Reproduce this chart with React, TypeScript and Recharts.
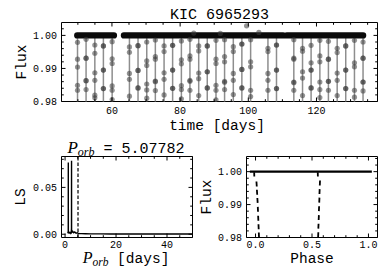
import React from 'react';
import { ComposedChart, Line, Scatter, XAxis, YAxis, ReferenceLine, ReferenceArea } from 'recharts';

const W = 390;
const H = 279;
const MONO = '"Liberation Mono", "Courier New", monospace';
const SERIF = '"Liberation Serif", "Times New Roman", serif';

// ---------------- light curve (top panel) ----------------
const lcXDomain = [45.2, 137.9];
const lcYDomain = [0.98, 1.0039];
const lcXMajor = [60, 80, 100, 120];
const lcXMinor = [50, 55, 65, 70, 75, 85, 90, 95, 105, 110, 115, 125, 130, 135];
const fluxMajor = [0.98, 0.99, 1.0];
const fluxMinor = [0.982, 0.984, 0.986, 0.988, 0.992, 0.994, 0.996, 0.998, 1.002];
const segStart = [49.8, 63.5, 111.3];
const segEnd = [60.6, 110.2, 133.7];
const eclipseTimes = [
  49.9, 52.41, 54.98, 57.49, 60.06, 65.13, 67.65, 70.21, 72.73, 75.29, 77.8, 80.37, 82.88, 85.45, 87.96, 90.52,
  93.04, 95.6, 98.11, 100.68, 105.76, 108.27, 113.35, 115.91, 118.42, 120.99, 123.5, 126.07, 128.58, 131.14, 133.66,
];
const eclipseFlux = [
  [0.9979, 0.9928, 0.9904, 0.9849, 0.9834],
  [0.9988, 0.9931, 0.9931, 0.9863, 0.9863, 0.9836],
  [0.9971, 0.9946, 0.9887, 0.9864, 0.9819, 0.9811],
  [0.9968, 0.9968, 0.9895, 0.9895, 0.9839, 0.9839],
  [0.9981, 0.9929, 0.9915, 0.9847, 0.9834, 0.9806],
  [0.9965, 0.9949, 0.9885, 0.9867, 0.9816],
  [0.9969, 0.9969, 0.9894, 0.9894, 0.9841, 0.9841],
  [0.998, 0.9923, 0.9909, 0.9853, 0.9835, 0.981],
  [0.9986, 0.9936, 0.9928, 0.9862, 0.986, 0.9833],
  [0.9968, 0.9951, 0.9887, 0.9867, 0.982],
  [0.997, 0.997, 0.9895, 0.9895, 0.984, 0.984],
  [0.9983, 0.9926, 0.9914, 0.9848, 0.9836, 0.9808],
  [0.9988, 0.9938, 0.9928, 0.9864, 0.9861, 0.9834],
  [0.9968, 0.9953, 0.9886, 0.9869, 0.9818],
  [0.9968, 0.9968, 0.989, 0.989, 0.9841, 0.9841],
  [0.9985, 0.9928, 0.9915, 0.9849, 0.9834, 0.9805],
  [0.9987, 0.9936, 0.992, 0.9861, 0.9858, 0.9836],
  [0.9966, 0.9951, 0.9885, 0.9864, 0.9821],
  [0.9974, 0.9974, 0.9897, 0.9897, 0.9841, 0.9841],
  [0.9987, 0.992, 0.9905, 0.9834, 0.9815],
  [0.9961, 0.9951, 0.9885, 0.9864, 0.9834],
  [0.9971, 0.9971, 0.9895, 0.9895, 0.9839, 0.9839],
  [0.9987, 0.9931, 0.9928, 0.9859, 0.9857, 0.9834],
  [0.9961, 0.9952, 0.989, 0.9871, 0.9818],
  [0.997, 0.9917, 0.9895, 0.9895, 0.9841, 0.9841],
  [0.9985, 0.9938, 0.992, 0.9859, 0.9836, 0.9812],
  [0.9982, 0.9928, 0.9928, 0.9861, 0.9861, 0.9834],
  [0.9961, 0.9948, 0.9886, 0.9864, 0.9818],
  [0.9968, 0.9968, 0.9895, 0.9895, 0.9839, 0.9839],
  [0.9985, 0.9917, 0.9905, 0.9834, 0.9813],
  [0.998, 0.9931, 0.9931, 0.9859, 0.9859, 0.9832],
];
const eclipseMin = 0.975;
const strayTimes = [99.5, 84.0, 91.8, 103.1];
const strayFlux = [1.0029, 1.0007, 1.0006, 1.0009];

// ---------------- periodogram (bottom left) ----------------
const lsXDomain = [-1.4, 50];
const lsYDomain = [-0.0035, 0.083];
const lsXMajor = [0, 20, 40];
const lsXMinor = [5, 10, 15, 25, 30, 35, 45, 50];
const lsYMajor = [0, 0.05];
const lsYMinor = [0.01, 0.02, 0.03, 0.04, 0.06, 0.07, 0.08];
const lsPeriod = [
  1.0, 1.1, 1.2, 1.25, 1.27, 1.29, 1.35, 1.6, 1.9, 2.2, 2.45, 2.52, 2.54, 2.56, 2.65, 3.0, 3.4, 3.8, 4.3, 4.8, 5.08, 5.5,
  6.5, 8.0, 10.0, 14.0, 18.0, 24.0, 30.0, 36.0, 42.0, 49.9,
];
const lsPower = [
  0.001, 0.0015, 0.002, 0.004, 0.0767, 0.0035, 0.0015, 0.0012, 0.002, 0.001, 0.003, 0.006, 0.0785, 0.005, 0.002, 0.003,
  0.0015, 0.0025, 0.001, 0.0015, 0.0012, 0.0008, 0.0006, 0.0005, 0.0004, 0.0004, 0.0003, 0.0003, 0.0002, 0.0002, 0.0002,
  0.0002,
];
const pOrb = 5.07782;

// ---------------- phase-folded curve (bottom right) ----------------
const phXDomain = [-0.08, 1.08];
const phYDomain = [0.98, 1.0046];
const phXMajor = [0, 0.5, 1.0];
const phXMinor = [0.1, 0.2, 0.3, 0.4, 0.6, 0.7, 0.8, 0.9];
const phYMinor = [0.982, 0.984, 0.986, 0.988, 0.992, 0.994, 0.996, 0.998, 1.002, 1.004];
const phBasePhase = [-0.05, 1.03];
const phBaseFlux = [1.0, 1.0];
const primDashPhase = [
  [-0.012, -0.011], [0.008, 0.011], [0.012, 0.015], [0.016, 0.019], [0.02, 0.022], [0.023, 0.025], [0.026, 0.028], [0.029, 0.031],
];
const primDashFlux = [
  [0.9998, 0.9985], [0.997, 0.9955], [0.9945, 0.993], [0.992, 0.9905], [0.9893, 0.9878], [0.9866, 0.9851], [0.984, 0.9825], [0.9815, 0.9798],
];
const secDashPhase = [
  [0.551, 0.552], [0.571, 0.569], [0.568, 0.566], [0.566, 0.564], [0.563, 0.561], [0.561, 0.559], [0.558, 0.556], [0.556, 0.554],
];
const secDashFlux = [
  [0.9998, 0.9985], [0.9973, 0.9958], [0.9947, 0.9932], [0.9921, 0.9906], [0.9895, 0.988], [0.9868, 0.9853], [0.9842, 0.9827], [0.9816, 0.98],
];

// ---------------- derived tables ----------------
const bandData = segStart.flatMap((s, i) => [
  { x: s, y: 1.0 },
  { x: segEnd[i], y: 1.0 },
  { x: segEnd[i] + 0.01, y: null },
]);
const eclLineData = eclipseTimes.flatMap((t) => [
  { x: t, y: 1.0 },
  { x: t, y: eclipseMin },
  { x: t + 0.001, y: null },
]);
const eclDotData = eclipseTimes.flatMap((t, i) => eclipseFlux[i].map((f) => ({ x: t, y: f })));
const strayData = strayTimes.map((t, i) => ({ x: t, y: strayFlux[i] }));
const lsData = lsPeriod.map((p, i) => ({ x: p, y: lsPower[i] }));
const phBaseData = phBasePhase.map((p, i) => ({ x: p, y: phBaseFlux[i] }));
const dashTable = (ph: number[][], fl: number[][]) =>
  ph.flatMap((pair, i) => [
    { x: pair[0], y: fl[i][0] },
    { x: pair[1], y: fl[i][1] },
    { x: pair[1] + 0.0001, y: null },
  ]);
const primDashData = dashTable(primDashPhase, primDashFlux);
const secDashData = dashTable(secDashPhase, secDashFlux);

// ---------------- layout ----------------
type Box = { left: number; right: number; top: number; bottom: number };
const LC_BOX: Box = { left: 61.5, right: 377.5, top: 22.5, bottom: 101.5 };
const LS_BOX: Box = { left: 61.5, right: 192.5, top: 156.5, bottom: 237.5 };
const PH_BOX: Box = { left: 246.5, right: 377.5, top: 156.5, bottom: 237.5 };

const marginFor = (b: Box) => ({ top: b.top, right: W - b.right, bottom: H - b.bottom - 1, left: b.left - 1 });

const isIn = (arr: number[], v: number) => arr.some((m) => Math.abs(m - v) < 1e-9);

const xTick = (box: Box, majors: number[], fmt: (v: number) => string, labelDy: number) => (props: any) => {
  const x = props.x;
  const v = props.payload.value;
  const major = isIn(majors, v);
  const len = major ? 4 : 2.3;
  return (
    <g>
      <line x1={x} x2={x} y1={box.bottom} y2={box.bottom - len} stroke="#000" strokeWidth={1} />
      <line x1={x} x2={x} y1={box.top} y2={box.top + len} stroke="#000" strokeWidth={1} />
      {major ? (
        <text x={x} y={box.bottom + labelDy} textAnchor="middle" fontFamily={MONO} fontSize={10} fill="#000">
          {fmt(v)}
        </text>
      ) : null}
    </g>
  );
};

const yTick = (box: Box, majors: number[], fmt: (v: number) => string) => (props: any) => {
  const y = props.y;
  const v = props.payload.value;
  const major = isIn(majors, v);
  const len = major ? 4 : 2.3;
  return (
    <g>
      <line x1={box.left} x2={box.left + len} y1={y} y2={y} stroke="#000" strokeWidth={1} />
      <line x1={box.right} x2={box.right - len} y1={y} y2={y} stroke="#000" strokeWidth={1} />
      {major ? (
        <text x={box.left - 4.5} y={y + 3.5} textAnchor="end" fontFamily={MONO} fontSize={10} fill="#000">
          {fmt(v)}
        </text>
      ) : null}
    </g>
  );
};

const grayDot = (p: any) => <circle cx={p.cx} cy={p.cy} r={2.6} fill="#3c3c3c" fillOpacity={0.55} />;

const abs: React.CSSProperties = { position: 'absolute', left: 0, top: 0 };

export default function App() {
  return (
    <div style={{ position: 'absolute', left: 0, top: 0, width: W, height: H, background: '#fff', overflow: 'hidden' }}>
      {/* top: light curve */}
      <div style={abs}>
        <ComposedChart width={W} height={H} margin={marginFor(LC_BOX)}>
          <XAxis
            type="number"
            dataKey="x"
            domain={lcXDomain}
            allowDataOverflow
            ticks={[...lcXMajor, ...lcXMinor].sort((a, b) => a - b)}
            interval={0}
            tick={xTick(LC_BOX, lcXMajor, (v) => String(v), 12.8)}
            tickLine={false}
            axisLine={false}
            height={1}
          />
          <YAxis
            type="number"
            dataKey="y"
            domain={lcYDomain}
            allowDataOverflow
            ticks={[...fluxMajor, ...fluxMinor].sort((a, b) => a - b)}
            interval={0}
            tick={yTick(LC_BOX, fluxMajor, (v) => v.toFixed(2))}
            tickLine={false}
            axisLine={false}
            width={1}
          />
          <Line data={eclLineData} dataKey="y" stroke="#8e8e8e" strokeWidth={1.5} dot={false} isAnimationActive={false} />
          <Scatter data={eclDotData} dataKey="y" shape={grayDot} isAnimationActive={false} />
          <Scatter data={strayData} dataKey="y" shape={grayDot} isAnimationActive={false} />
          <Line
            data={bandData}
            dataKey="y"
            stroke="#0a0a0a"
            strokeWidth={6.2}
            strokeLinecap="round"
            dot={false}
            isAnimationActive={false}
          />
          <ReferenceArea x1={lcXDomain[0]} x2={lcXDomain[1]} y1={lcYDomain[0]} y2={lcYDomain[1]} fill="none" fillOpacity={0} stroke="#000" strokeWidth={1} ifOverflow="visible" />
        </ComposedChart>
      </div>

      {/* bottom left: periodogram */}
      <div style={abs}>
        <ComposedChart width={W} height={H} margin={marginFor(LS_BOX)}>
          <XAxis
            type="number"
            dataKey="x"
            domain={lsXDomain}
            allowDataOverflow
            ticks={[...lsXMajor, ...lsXMinor].sort((a, b) => a - b)}
            interval={0}
            tick={xTick(LS_BOX, lsXMajor, (v) => String(v), 10.5)}
            tickLine={false}
            axisLine={false}
            height={1}
          />
          <YAxis
            type="number"
            dataKey="y"
            domain={lsYDomain}
            allowDataOverflow
            ticks={[...lsYMajor, ...lsYMinor].sort((a, b) => a - b)}
            interval={0}
            tick={yTick(LS_BOX, lsYMajor, (v) => v.toFixed(2))}
            tickLine={false}
            axisLine={false}
            width={1}
          />
          <Line data={lsData} dataKey="y" stroke="#000" strokeWidth={1.4} dot={false} isAnimationActive={false} />
          <ReferenceLine x={pOrb} stroke="#000" strokeWidth={1.2} strokeDasharray="3.5 2" />
          <ReferenceArea x1={lsXDomain[0]} x2={lsXDomain[1]} y1={lsYDomain[0]} y2={lsYDomain[1]} fill="none" fillOpacity={0} stroke="#000" strokeWidth={1} ifOverflow="visible" />
        </ComposedChart>
      </div>

      {/* bottom right: phase folded */}
      <div style={abs}>
        <ComposedChart width={W} height={H} margin={marginFor(PH_BOX)}>
          <XAxis
            type="number"
            dataKey="x"
            domain={phXDomain}
            allowDataOverflow
            ticks={[...phXMajor, ...phXMinor].sort((a, b) => a - b)}
            interval={0}
            tick={xTick(PH_BOX, phXMajor, (v) => v.toFixed(1), 10.5)}
            tickLine={false}
            axisLine={false}
            height={1}
          />
          <YAxis
            type="number"
            dataKey="y"
            domain={phYDomain}
            allowDataOverflow
            ticks={[...fluxMajor, ...phYMinor].sort((a, b) => a - b)}
            interval={0}
            tick={yTick(PH_BOX, fluxMajor, (v) => v.toFixed(2))}
            tickLine={false}
            axisLine={false}
            width={1}
          />
          <Line data={phBaseData} dataKey="y" stroke="#000" strokeWidth={2.4} dot={false} isAnimationActive={false} />
          <Line data={primDashData} dataKey="y" stroke="#000" strokeWidth={1.8} dot={false} isAnimationActive={false} />
          <Line data={secDashData} dataKey="y" stroke="#000" strokeWidth={1.8} dot={false} isAnimationActive={false} />
          <ReferenceArea x1={phXDomain[0]} x2={phXDomain[1]} y1={phYDomain[0]} y2={phYDomain[1]} fill="none" fillOpacity={0} stroke="#000" strokeWidth={1} ifOverflow="visible" />
        </ComposedChart>
      </div>

      {/* titles and axis labels */}
      <svg width={W} height={H} style={{ ...abs, pointerEvents: 'none' }}>
        <text x={219.5} y={19} textAnchor="middle" fontFamily={MONO} fontSize={15} fill="#000">
          KIC 6965293
        </text>
        <text x={26} y={62} textAnchor="middle" fontFamily={MONO} fontSize={14.5} fill="#000" transform="rotate(-90 26 62)">
          Flux
        </text>
        <text x={217} y={129.5} textAnchor="middle" fontFamily={MONO} fontSize={14.5} fill="#000">
          time [days]
        </text>

        <text x={126} y={153} textAnchor="middle" fill="#000">
          <tspan fontFamily={SERIF} fontStyle="italic" fontSize={17}>P</tspan>
          <tspan fontFamily={SERIF} fontStyle="italic" fontSize={12} dy={3}>orb</tspan>
          <tspan fontFamily={MONO} fontSize={15} dy={-3}> = 5.07782</tspan>
        </text>
        <text x={25} y={197} textAnchor="middle" fontFamily={MONO} fontSize={14.5} fill="#000" transform="rotate(-90 25 197)">
          LS
        </text>
        <text x={126} y={263} textAnchor="middle" fill="#000">
          <tspan fontFamily={SERIF} fontStyle="italic" fontSize={16}>P</tspan>
          <tspan fontFamily={SERIF} fontStyle="italic" fontSize={11.5} dy={2.5}>orb</tspan>
          <tspan fontFamily={MONO} fontSize={14.5} dy={-2.5}>{'  [days]'}</tspan>
        </text>

        <text x={211} y={197} textAnchor="middle" fontFamily={MONO} fontSize={14.5} fill="#000" transform="rotate(-90 211 197)">
          Flux
        </text>
        <text x={312} y={263} textAnchor="middle" fontFamily={MONO} fontSize={14.5} fill="#000">
          Phase
        </text>
      </svg>
    </div>
  );
}
